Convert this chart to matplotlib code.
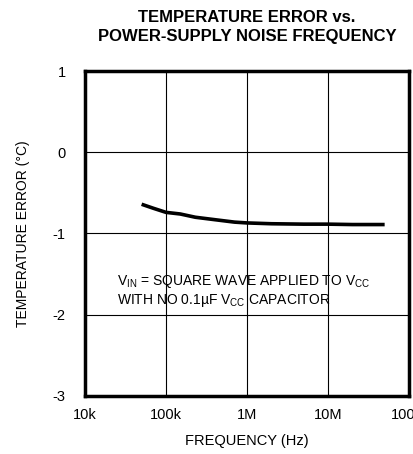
import matplotlib.pyplot as plt
from matplotlib import font_manager

# data
freq_hz = [50e3, 70e3, 100e3, 150e3, 230e3, 400e3, 700e3, 1e6, 2e6, 5e6, 10e6, 20e6, 50e6]
temp_err = [-0.64, -0.69, -0.74, -0.76, -0.80, -0.83, -0.86, -0.87, -0.88, -0.885, -0.885, -0.89, -0.89]

x_ticks = [1e4, 1e5, 1e6, 1e7, 1e8]
x_tick_labels = ["10k", "100k", "1M", "10M", "100M"]
y_ticks = [-3, -2, -1, 0, 1]

names = {f.name for f in font_manager.fontManager.ttflist}
fam = "Liberation Sans Narrow" if "Liberation Sans Narrow" in names else "Liberation Sans"
plt.rcParams["font.family"] = [fam, "DejaVu Sans"]
plt.rcParams["axes.unicode_minus"] = False
plt.rcParams["mathtext.fontset"] = "custom"
plt.rcParams["mathtext.rm"] = fam

fig = plt.figure(figsize=(4.14, 4.54), dpi=100)
ax = fig.add_axes([0.2053, 0.1278, 0.7827, 0.7158])

ax.plot(freq_hz, temp_err, color="black", lw=2.6, solid_capstyle="butt")

ax.set_xscale("log")
ax.set_xlim(1e4, 1e8)
ax.set_ylim(-3, 1)
ax.set_xticks(x_ticks)
ax.set_xticklabels(x_tick_labels)
ax.set_yticks(y_ticks)
ax.minorticks_off()
ax.tick_params(length=0, labelsize=10.5)
ax.tick_params(axis="y", pad=14)
ax.tick_params(axis="x", pad=9)
for lbl in ax.get_xticklabels():
    lbl.set_clip_on(False)

ax.grid(True, color="black", lw=0.8)
for s in ax.spines.values():
    s.set_linewidth(2.5)

ax.set_xlabel("FREQUENCY (Hz)", fontsize=10.5, labelpad=8)
ax.set_ylabel("TEMPERATURE ERROR (\u00b0C)", fontsize=10, labelpad=12)
ax.yaxis.set_label_coords(-0.17, 0.5)

ax.text(2.5e4, -1.595, "V$_{\\rm IN}$ = SQUARE WAVE APPLIED TO V$_{\\rm CC}$",
        fontsize=10, va="center")
ax.text(2.5e4, -1.83, "WITH NO 0.1\u00b5F V$_{\\rm CC}$ CAPACITOR",
        fontsize=10, va="center")

fig.text(0.597, 0.9615, "TEMPERATURE ERROR vs.", ha="center", va="center",
         fontsize=12, fontweight="bold")
fig.text(0.597, 0.9207, "POWER-SUPPLY NOISE FREQUENCY", ha="center", va="center",
         fontsize=12, fontweight="bold")

fig.savefig("out.png", dpi=100)
